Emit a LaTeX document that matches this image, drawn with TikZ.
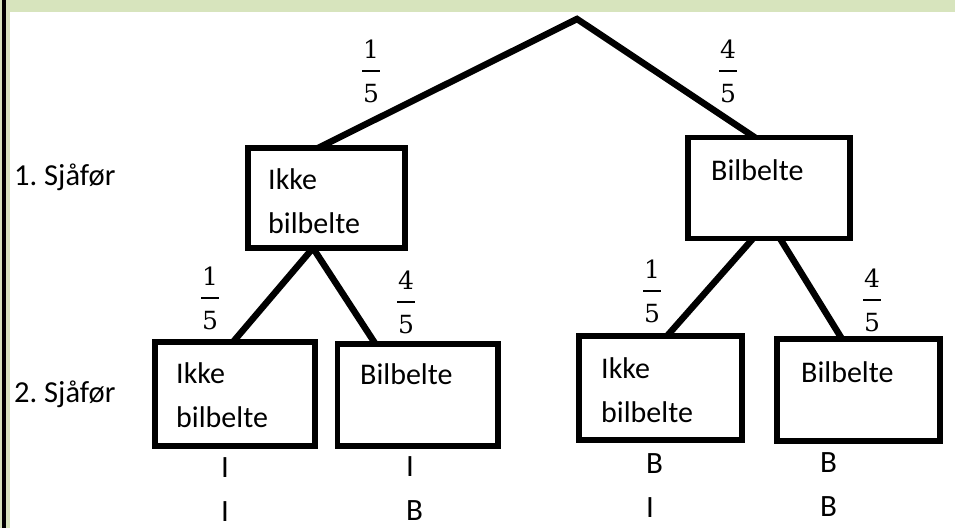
\documentclass[tikz,border=0pt]{standalone}
\usepackage[no-math]{fontspec}
\setmainfont{Carlito}
\newfontfamily\fracfont{DejaVu Serif}
\usetikzlibrary{calc,backgrounds}
\definecolor{bandgreen}{RGB}{215,228,189}
\newcommand{\probfrac}[2]{\vbox{\offinterlineskip\halign{\hfil##\hfil\cr\fracfont #1\cr\noalign{\kern12pt}\rule{18pt}{1.6pt}\cr\noalign{\kern12pt}\fracfont #2\cr}}}
\frenchspacing
\begin{document}
\begin{tikzpicture}[x=1pt,y=-1pt,
  box/.style={draw=black, line width=5.5pt, fill=white, inner sep=0pt, outer sep=0pt, anchor=north west},
  conn/.style={draw=black, line width=6.5pt, line join=miter},
  lbl/.style={inner sep=0pt, font=\fontsize{30}{44}\selectfont, text=black, align=left, anchor=base west},
  outc/.style={inner sep=0pt, font=\fontsize{31}{44}\selectfont, text=black, align=left, anchor=base west},
  rowlbl/.style={inner sep=0pt, font=\fontsize{30.5}{44}\selectfont, text=black, anchor=base west},
  frc/.style={inner sep=0pt, font=\fontsize{25}{28}\selectfont, text=black}
]
\useasboundingbox (0,0) rectangle (955,528);
\begin{scope}[on background layer]
  \fill[white] (0,0) rectangle (955,528);
  \fill[bandgreen] (0,0) rectangle (955,12);
  \fill[bandgreen] (0,0) rectangle (10,528);
  \fill[black] (2,0) rectangle (6,528);
\end{scope}

% boxes
\node[box, minimum width=157pt, minimum height=100pt] (n1a) at (248,148) {};
\node[box, minimum width=162pt, minimum height=101pt] (n1b) at (688,137.5) {};
\node[box, minimum width=160pt, minimum height=104pt] (nA) at (155,342) {};
\node[box, minimum width=160.5pt, minimum height=102pt] (nB) at (337.5,344) {};
\node[box, minimum width=163pt, minimum height=104pt] (nC) at (579,336) {};
\node[box, minimum width=163pt, minimum height=102pt] (nD) at (777,339) {};

% box texts (anchor = baseline of last line)
\node[lbl] (t1a) at (268,233) {Ikke\\bilbelte};
\node[lbl] (t1b) at (711,180) {Bilbelte};
\node[lbl] (tA) at (176,427) {Ikke\\bilbelte};
\node[lbl] (tB) at (360,384) {Bilbelte};
\node[lbl] (tC) at (601,422) {Ikke\\bilbelte};
\node[lbl] (tD) at (801,382) {Bilbelte};

% row labels
\node[rowlbl] (s1) at (14,185) {1. Sjåfør};
\node[rowlbl] (s2) at (14,402) {2. Sjåfør};

% outcomes
\node[outc] (oA) at (221,521) {I\\I};
\node[outc] (oB) at (406,520) {I\\B};
\node[outc] (oC) at (646,517) {B\\I};
\node[outc] (oD) at (820,516) {B\\B};

% probabilities
\node[frc] (f1) at (371,71) {\probfrac{1}{5}};
\node[frc] (f2) at (728,71) {\probfrac{4}{5}};
\node[frc] (f3) at (210,298) {\probfrac{1}{5}};
\node[frc] (f4) at (406,302) {\probfrac{4}{5}};
\node[frc] (f5) at (652,291) {\probfrac{1}{5}};
\node[frc] (f6) at (872,300) {\probfrac{4}{5}};

% connectors
\coordinate (root) at (577,19);
\begin{scope}[on background layer]
  \draw[conn] ($(n1a.north west)+(70,0)$) -- (root) -- ($(n1b.north west)+(67,0)$);
  \draw[conn] ($(nA.north west)+(78,0)$) -- ($(n1a.south west)+(65,0)$) -- ($(nB.north west)+(38,0)$);
  \draw[conn] ($(n1b.south west)+(65,0)$) -- ($(nC.north west)+(88,0)$);
  \draw[conn] ($(n1b.south west)+(92,0)$) -- ($(nD.north west)+(65,0)$);
\end{scope}
\end{tikzpicture}
\end{document}
